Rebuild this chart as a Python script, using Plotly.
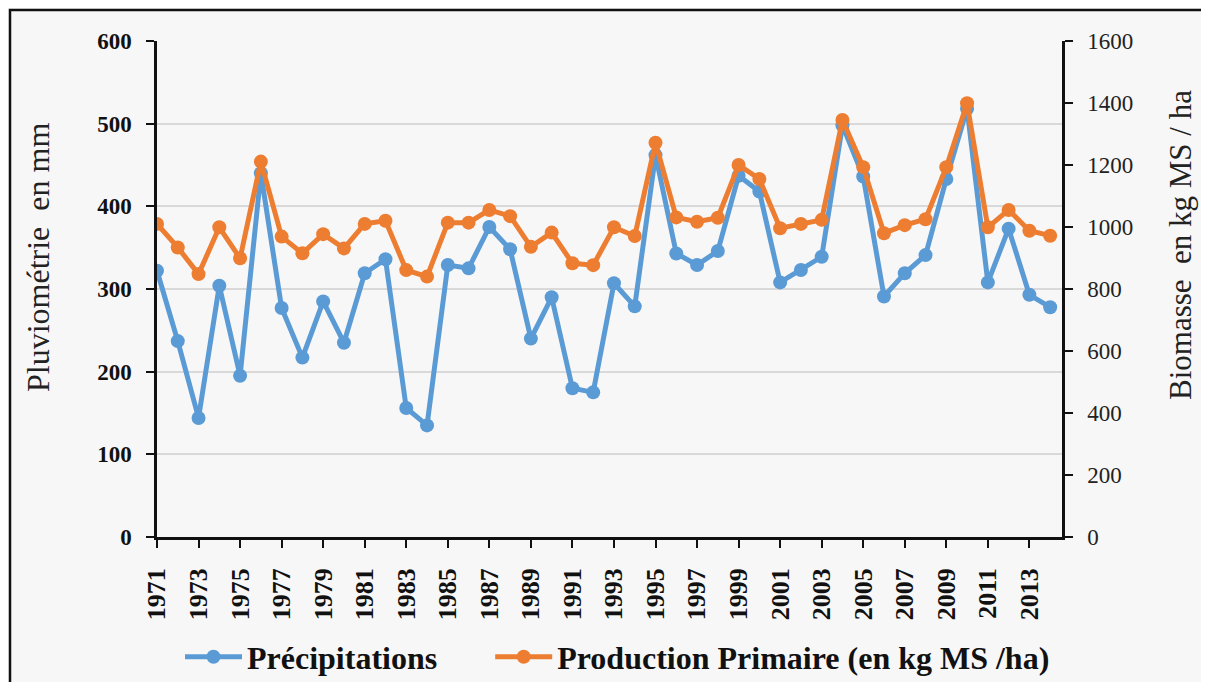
import plotly.graph_objects as go

years = list(range(1971, 2015))
precipitations = [322, 237, 144, 304, 195, 440, 277, 217, 285, 235,
                  319, 336, 156, 135, 329, 325, 375, 348, 240, 290,
                  180, 175, 307, 279, 462, 343, 329, 346, 437, 418,
                  308, 323, 339, 498, 436, 291, 319, 341, 433, 518,
                  308, 373, 293, 278]
biomasse = [1010, 934, 848, 999, 899, 1211, 969, 915, 977, 931,
            1010, 1020, 861, 840, 1014, 1014, 1055, 1035, 936, 982,
            883, 877, 999, 971, 1272, 1031, 1017, 1030, 1200, 1155,
            996, 1010, 1023, 1345, 1193, 980, 1006, 1025, 1193, 1399,
            999, 1055, 988, 972]
tick_years = list(range(1971, 2014, 2))
left_ticks = [0, 100, 200, 300, 400, 500, 600]
right_ticks = [0, 200, 400, 600, 800, 1000, 1200, 1400, 1600]

BLUE = "#5b9bd5"
ORANGE = "#ed7d31"
SERIF = "Liberation Serif"

fig = go.Figure()
fig.add_trace(go.Scatter(
    x=years, y=precipitations, name="Précipitations" + "\u00a0" * 6,
    mode="lines+markers",
    line=dict(color=BLUE, width=5), marker=dict(color=BLUE, size=14),
    yaxis="y"))
fig.add_trace(go.Scatter(
    x=years, y=biomasse, name="Production Primaire (en kg MS /ha)",
    mode="lines+markers",
    line=dict(color=ORANGE, width=5), marker=dict(color=ORANGE, size=14),
    yaxis="y2"))

# page offset introduced by the browser's default body margin
OFF = 8
W, H = 1209, 690
FIG_W, FIG_H = W - 2 * OFF, H - 2 * OFF
L, R, T, B = 157, 1062, 41, 537
pw, ph = R - L, B - T

def px(x):
    return (x - L) / pw

def py(y):
    return (B - y) / ph

fig.update_layout(
    width=FIG_W, height=FIG_H,
    margin=dict(l=L - OFF, r=FIG_W - (R - OFF), t=T - OFF, b=FIG_H - (B - OFF),
                pad=0, autoexpand=False),
    paper_bgcolor="#f7f7f7",
    plot_bgcolor="rgba(0,0,0,0)",
    showlegend=True,
    legend=dict(orientation="h", x=px(180), xanchor="left", y=py(657),
                yanchor="middle", font=dict(family=SERIF, size=32, color="#111",
                                            weight="bold"),
                bgcolor="rgba(0,0,0,0)", itemwidth=57, traceorder="normal"),
    xaxis=dict(range=[1971, 2014.57], tickmode="array", tickvals=tick_years,
               ticktext=[str(v) for v in tick_years], tickangle=-90,
               tickfont=dict(family=SERIF, size=26, color="#111", weight="bold"),
               ticks="outside", ticklen=8, tickwidth=2, tickcolor="#111",
               showline=True, linecolor="#111", linewidth=2.5, automargin=False,
               showgrid=False, zeroline=False, ticklabelstandoff=10),
    yaxis=dict(range=[0, 600], tickmode="array", tickvals=left_ticks,
               tickfont=dict(family=SERIF, size=23, color="#111", weight="bold"),
               ticks="outside", ticklen=8, tickwidth=2, tickcolor="#111",
               showline=True, linecolor="#111", linewidth=2.5, automargin=False,
               showgrid=True, gridcolor="#d9d9d9", gridwidth=2,
               zeroline=False, ticklabelstandoff=10),
    yaxis2=dict(range=[0, 1600], tickmode="array", tickvals=right_ticks,
                overlaying="y", side="right",
                tickfont=dict(family=SERIF, size=23, color="#222"),
                ticks="outside", ticklen=8, tickwidth=2, tickcolor="#111",
                showline=True, linecolor="#111", linewidth=2.5, automargin=False,
                showgrid=False, zeroline=False, ticklabelstandoff=10),
    shapes=[dict(type="rect", xref="paper", yref="paper",
                 x0=px(10), x1=px(1230), y0=py(700), y1=py(10),
                 line=dict(color="#111", width=2.5), fillcolor="#f7f7f7",
                 layer="below")],
    annotations=[
        dict(text="Pluviométrie  en mm", textangle=-90, xref="paper", yref="paper",
             x=px(38), y=py(258), xanchor="center", yanchor="middle",
             showarrow=False, font=dict(family=SERIF, size=32, color="#222")),
        dict(text="Biomasse  en kg MS / ha", textangle=-90, xref="paper", yref="paper",
             x=px(1181), y=py(245), xanchor="center", yanchor="middle",
             showarrow=False, font=dict(family=SERIF, size=31, color="#222")),
    ],
)

fig.write_html("out.html")
